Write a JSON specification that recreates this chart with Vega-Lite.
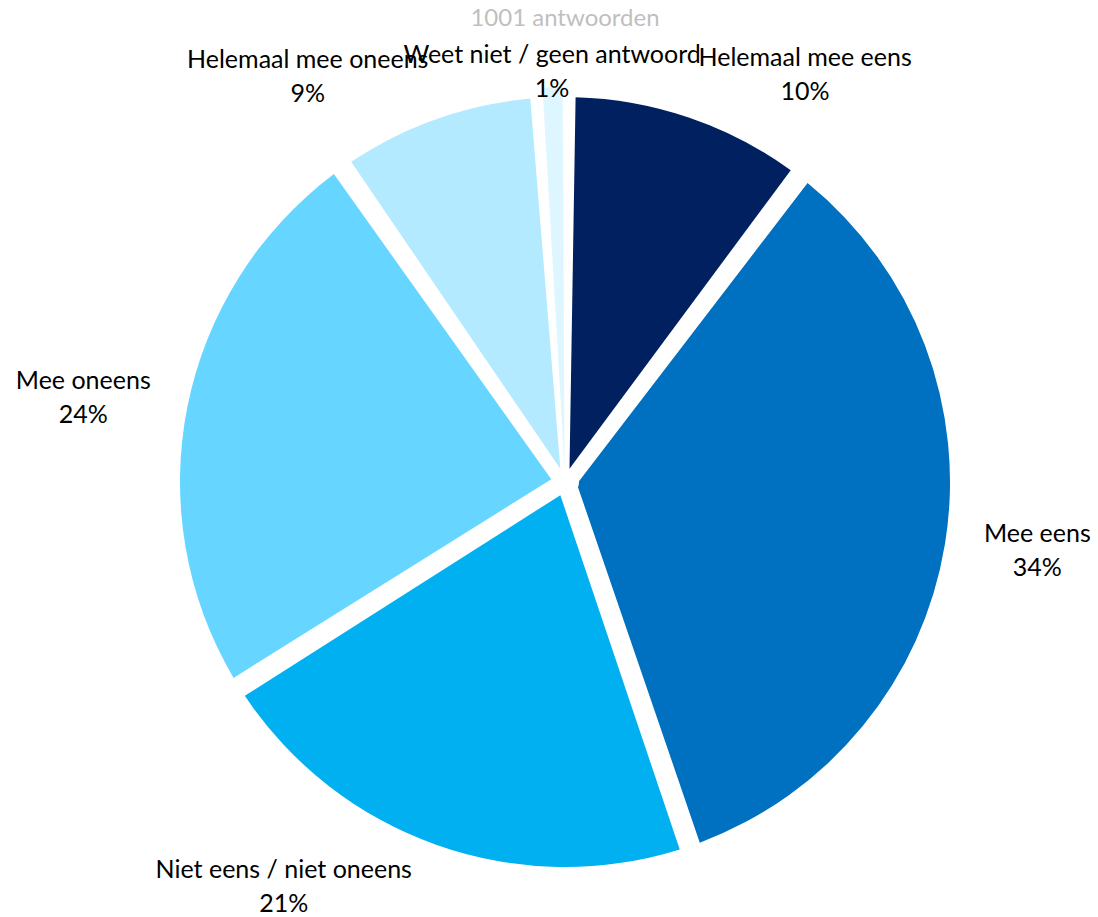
{
  "$schema": "https://vega.github.io/schema/vega-lite/v6.json",
  "width": 1066,
  "height": 870,
  "autosize": {"type": "none"},
  "padding": {"left": 32, "top": 47, "right": 0, "bottom": 0},
  "background": "white",
  "title": {"text": "1001 antwoorden", "color": "#BFBFBF", "font": "Lato", "fontSize": 24, "fontWeight": "normal", "anchor": "middle", "frame": "group", "offset": 12, "baseline": "top"},
  "config": {"view": {"stroke": null}},
  "data": {"values": [
    {"idx": 1, "category": "Helemaal mee eens", "share": 0.104},
    {"idx": 2, "category": "Mee eens", "share": 0.343},
    {"idx": 3, "category": "Niet eens / niet oneens", "share": 0.213},
    {"idx": 4, "category": "Mee oneens", "share": 0.241},
    {"idx": 5, "category": "Helemaal mee oneens", "share": 0.088},
    {"idx": 6, "category": "Weet niet / geen antwoord", "share": 0.010}
  ]},
  "encoding": {
    "theta": {"field": "share", "type": "quantitative", "stack": true},
    "order": {"field": "idx", "type": "quantitative", "sort": "ascending"}
  },
  "layer": [
    {
      "mark": {"type": "arc", "outerRadius": 385, "innerRadius": 14, "padAngle": 0.055},
      "encoding": {
        "color": {"field": "category", "type": "nominal", "legend": null,
          "scale": {"domain": ["Helemaal mee eens", "Mee eens", "Niet eens / niet oneens", "Mee oneens", "Helemaal mee oneens", "Weet niet / geen antwoord"],
                    "range": ["#002060", "#0070C0", "#00B0F0", "#66D5FF", "#B3EAFF", "#DEF6FF"]}}
      }
    },
    {
      "mark": {"type": "arc", "outerRadius": 395, "innerRadius": 14, "padAngle": 0.012},
      "encoding": {
        "color": {"field": "category", "type": "nominal", "legend": null},
        "opacity": {"condition": {"test": "datum.category === 'Weet niet / geen antwoord'", "value": 1}, "value": 0}
      }
    },
    {
      "mark": {"type": "text", "radius": {"expr": "(datum.share_start + datum.share_end) / 2 > 0.97 ? 410 : 430"}, "dy": -17, "font": "Lato", "fontSize": 25, "color": "#000000", "baseline": "middle", "align": "center",
        "dx": {"expr": "((datum.share_start + datum.share_end) / 2 > 0.97 ? 0 : ((datum.share_start + datum.share_end) / 2 < 0.5 ? 1 : -1)) * length(datum.category) * 6"}},
      "encoding": {
        "text": {"field": "category", "type": "nominal"},
        "detail": {"field": "category", "type": "nominal"}
      }
    },
    {
      "mark": {"type": "text", "radius": {"expr": "(datum.share_start + datum.share_end) / 2 > 0.97 ? 410 : 430"}, "dy": 17, "font": "Lato", "fontSize": 25, "color": "#000000", "baseline": "middle", "align": "center",
        "dx": {"expr": "((datum.share_start + datum.share_end) / 2 > 0.97 ? 0 : ((datum.share_start + datum.share_end) / 2 < 0.5 ? 1 : -1)) * length(datum.category) * 6"}},
      "encoding": {
        "text": {"field": "share", "type": "quantitative", "format": ".0%"},
        "detail": {"field": "category", "type": "nominal"}
      }
    }
  ]
}
